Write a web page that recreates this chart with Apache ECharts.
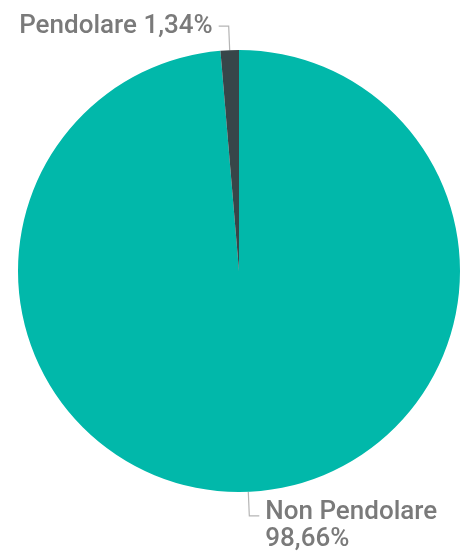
<!DOCTYPE html>
<html><head><meta charset="utf-8">
<script src="https://cdn.jsdelivr.net/npm/echarts@6/dist/echarts.min.js"></script>
<style>html,body{margin:0;padding:0;background:#fff}#c{width:461px;height:552px}</style>
</head><body><div id="c"></div>
<script>
const categories = ['Non Pendolare', 'Pendolare'];
const values = [98.66, 1.34];
const colors = ['#01B8AA', '#374649'];

function fmt(v){ return v.toFixed(2).replace('.', ','); }

const textStyle = {color:'#7a7a7a', fontSize:26, fontWeight:500, fontFamily:'Roboto', lineHeight:27};

const chart = echarts.init(document.getElementById('c'), null, {renderer:'canvas'});
chart.setOption({
  animation:false,
  series:[{
    type:'pie',
    center:[239, 271],
    radius:[0, 221],
    startAngle:90,
    clockwise:true,
    data: categories.map((n,i)=>({
      name:n, value:values[i], itemStyle:{color:colors[i]},
      label: i===0
        ? {formatter: '{g| }\n{t|' + n + '}\n{t|' + fmt(values[i]) + '%}'}
        : {formatter: n + ' ' + fmt(values[i]) + '%'}
    })),
    label:Object.assign({show:true, position:'outside', distanceToLabelLine:6,
      rich:{g:{fontSize:6, lineHeight:20, height:20}, t:Object.assign({}, textStyle)}}, textStyle),
    labelLine:{show:true, length:24, length2:10, lineStyle:{color:'#b5b5b5', width:1.2}},
    itemStyle:{borderWidth:0}
  }]
});
</script></body></html>
